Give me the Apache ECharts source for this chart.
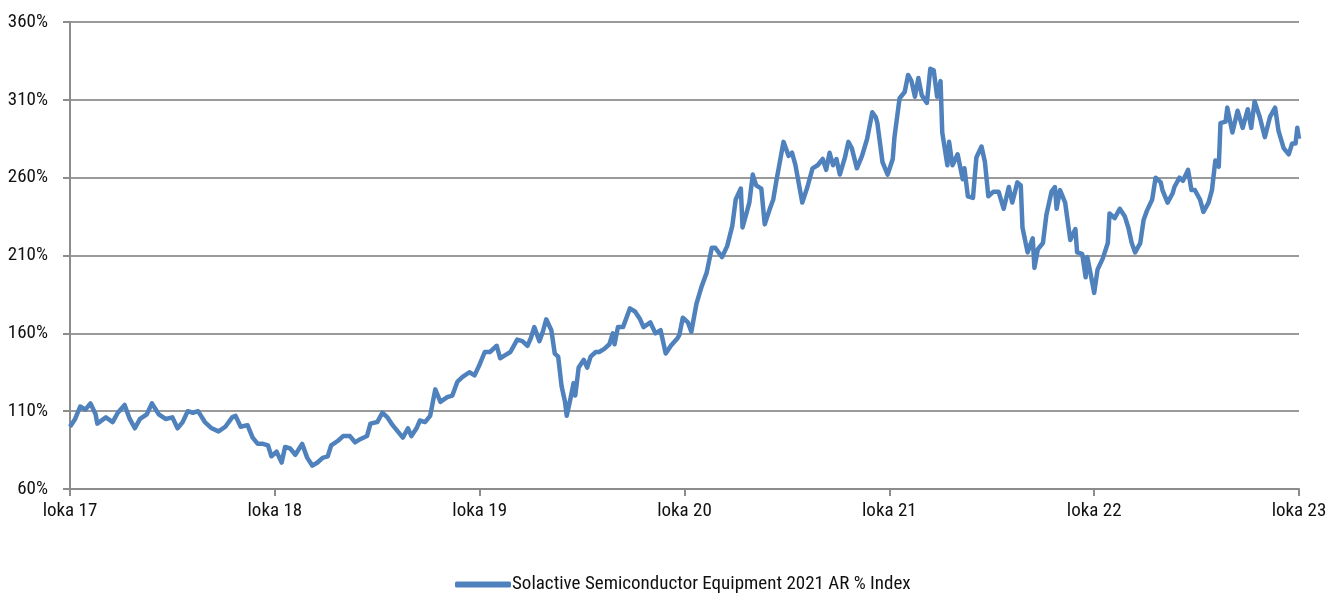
<!DOCTYPE html>
<html>
<head>
<meta charset="utf-8">
<script src="https://cdn.jsdelivr.net/npm/echarts@6/dist/echarts.min.js"></script>
<style>
html,body{margin:0;padding:0;background:#fff;}
#chart{width:1340px;height:599px;}
</style>
</head>
<body>
<div id="chart"></div>
<script>
// Tick labels for each October (months from Oct 2017: 0,12,...,72)
const yearLabels = ['loka 17','loka 18','loka 19','loka 20','loka 21','loka 22','loka 23'];
const seriesName = 'Solactive Semiconductor Equipment 2021 AR % Index';
// Months since Oct 2017
const monthOffsets = [
0.0,0.3,0.6,0.9,1.2,1.5,1.6,2.1,2.5,2.8,3.2,3.5,3.8,4.1,4.5,4.8,5.2,5.6,6.0,6.3,6.6,6.9,7.2,7.5,7.9,8.3,8.7,9.1,9.5,9.7,10.0,10.4,10.7,11.0,11.3,11.6,11.8,
12.1,12.4,12.6,12.9,13.2,13.6,13.9,14.2,14.5,14.8,15.1,15.3,15.7,16.0,16.4,16.7,17.0,17.4,17.6,18.0,18.3,18.6,18.9,19.2,19.5,19.8,20.0,20.3,20.5,20.8,21.1,21.4,21.7,22.1,22.4,22.7,23.0,23.4,23.7,
24.0,24.3,24.6,25.0,25.2,25.5,25.8,26.2,26.5,26.8,27.0,27.2,27.5,27.7,27.9,28.2,28.4,28.6,28.8,29.0,29.1,29.3,29.5,29.6,29.8,30.1,30.3,30.5,30.8,31.0,31.3,31.6,31.8,31.9,32.1,32.4,32.8,33.1,33.4,33.6,34.0,34.3,34.6,34.9,35.2,35.6,35.7,35.9,
36.2,36.4,36.7,37.0,37.3,37.6,37.8,38.2,38.5,38.8,39.0,39.3,39.4,39.7,39.8,40.0,40.2,40.5,40.7,41.0,41.2,41.4,41.5,41.8,42.1,42.3,42.5,42.6,42.9,43.2,43.5,43.8,44.1,44.3,44.5,44.7,44.9,45.1,45.4,45.6,45.8,46.1,46.4,46.7,47.0,47.2,47.3,47.6,47.9,
48.2,48.3,48.6,48.9,49.1,49.3,49.5,49.7,49.9,50.2,50.4,50.6,50.8,51.0,51.1,51.4,51.5,51.7,52.0,52.3,52.4,52.6,52.9,53.1,53.4,53.6,53.8,54.1,54.4,54.7,55.0,55.2,55.5,55.7,55.8,56.1,56.4,56.5,56.7,57.0,57.2,57.5,57.7,57.8,58.0,58.3,58.6,58.9,59.0,59.3,59.5,59.6,59.9,
60.0,60.2,60.5,60.8,60.9,61.2,61.5,61.8,62.0,62.2,62.4,62.7,62.9,63.1,63.4,63.6,63.9,64.0,64.3,64.6,64.7,65.0,65.2,65.5,65.7,65.9,66.2,66.4,66.7,66.9,67.1,67.3,67.4,67.7,67.8,68.1,68.4,68.7,69.0,69.2,69.4,69.7,70.0,70.3,70.6,70.8,71.1,71.4,71.6,71.8,71.9,72.0
];
// Index level in %
const indexValues = [
100,105,113,111,115,108,102,106,103,109,114,105,99,105,108,115,108,105,106,99,103,110,109,110,103,99,97,100,106,107,100,101,93,89,89,88,81,
84,77,87,86,82,89,80,75,77,80,81,88,91,94,94,90,92,94,102,103,109,106,101,97,93,99,94,99,104,103,107,124,116,119,120,129,132,135,133,
140,148,148,152,144,146,148,156,155,152,157,164,155,161,169,162,147,145,126,116,107,117,128,120,138,143,138,145,148,148,150,153,160,153,164,164,176,174,169,164,167,160,162,147,152,157,159,170,
167,161,179,190,199,215,215,209,216,229,246,253,228,240,244,262,255,253,230,240,246,259,265,283,274,276,268,268,244,254,266,268,272,265,276,268,272,262,273,283,279,266,274,285,302,299,295,270,262,
272,286,311,315,326,322,312,324,313,308,330,329,312,322,289,268,283,268,275,259,266,248,247,273,280,270,248,251,251,240,254,244,257,255,228,212,221,202,214,218,236,251,254,240,252,244,220,227,212,211,196,209,192,
186,201,208,218,237,234,240,235,228,218,212,218,233,239,246,260,257,252,244,250,254,260,258,265,252,252,246,238,244,252,271,267,295,296,305,289,303,292,304,292,309,299,286,299,305,290,279,275,282,282,292,285
];
const yTickValues = [60,110,160,210,260,310,360];

const data = monthOffsets.map((m, i) => [m, indexValues[i]]);
const FONT = "'Roboto Condensed','Liberation Sans',sans-serif";
const chart = echarts.init(document.getElementById('chart'), null, {renderer:'canvas'});
chart.setOption({
  animation:false,
  backgroundColor:'#ffffff',
  grid:{left:70,right:41,top:22,bottom:110,containLabel:false,outerBoundsMode:'none'},
  xAxis:{
    type:'value',min:0,max:72,interval:12,
    axisLine:{show:true,lineStyle:{color:'#8c8c8c',width:2}},
    axisTick:{show:true,length:7,lineStyle:{color:'#8c8c8c',width:2}},
    splitLine:{show:false},
    axisLabel:{margin:13,color:'#111',fontFamily:FONT,fontSize:19,
      formatter:v=>yearLabels[Math.round(v/12)]}
  },
  yAxis:{
    type:'value',min:yTickValues[0],max:yTickValues[yTickValues.length-1],interval:50,
    axisLine:{show:true,lineStyle:{color:'#8c8c8c',width:2}},
    axisTick:{show:true,length:7,lineStyle:{color:'#8c8c8c',width:2}},
    splitLine:{show:true,lineStyle:{color:'#9a9a9a',width:2}},
    axisLabel:{margin:22,color:'#111',fontFamily:FONT,fontSize:19,formatter:'{value}%'}
  },
  legend:{
    bottom:0,left:450,
    itemWidth:56,itemHeight:6,itemGap:6,
    icon:'roundRect',
    textStyle:{color:'#111',fontFamily:FONT,fontSize:19,padding:[0,0,0,-4]},
    data:[seriesName]
  },
  series:[{
    name:seriesName,type:'line',data:data,
    showSymbol:false,symbol:'none',
    lineStyle:{color:'#4F81BD',width:4.5,join:'round'},
    itemStyle:{color:'#4F81BD'}
  }]
});
</script>
</body>
</html>
